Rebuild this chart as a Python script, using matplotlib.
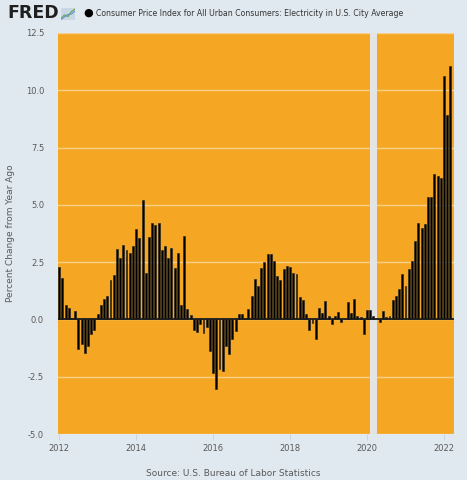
import numpy as np
import matplotlib.pyplot as plt

# 数据：2012年1月起每月同比变化（%）
start_year = 2012
values = [
    2.28, 1.81, 0.61, 0.48, 0.05, 0.35, -1.28, -1.06, -1.45, -1.16, -0.65, -0.46,  # 2012
    0.22, 0.65, 0.87, 1.01, 1.70, 1.94, 3.07, 2.68, 3.26, 3.01, 2.88, 3.20,  # 2013
    3.94, 3.54, 5.22, 2.03, 3.59, 4.20, 4.12, 4.20, 3.04, 3.22, 2.68, 3.12,  # 2014
    2.23, 2.90, 0.65, 3.62, 0.46, 0.20, -0.46, -0.55, -0.19, -0.58, -0.33, -1.39,  # 2015
    -2.32, -3.04, -2.17, -2.25, -1.16, -1.49, -0.84, -0.51, 0.25, 0.22, 0.07, 0.46,  # 2016
    1.04, 1.78, 1.45, 2.25, 2.51, 2.84, 2.84, 2.54, 1.91, 1.74, 2.20, 2.32,  # 2017
    2.29, 2.03, 2.00, 1.00, 0.86, 0.22, -0.48, -0.14, -0.87, 0.48, 0.29, 0.80,  # 2018
    0.17, -0.19, 0.16, 0.33, -0.10, 0.04, 0.77, 0.26, 0.91, 0.14, 0.09, -0.65,  # 2019
    0.39, 0.42, 0.13, 0.02, -0.12, 0.36, 0.10, 0.17, 0.84, 1.02, 1.31, 1.99,  # 2020
    1.48, 2.21, 2.53, 3.44, 4.22, 4.01, 4.17, 5.36, 5.33, 6.35, 6.24, 6.18,  # 2021
    10.64, 8.94, 11.08,  # 2022
]
x_ticks = [2012, 2014, 2016, 2018, 2020, 2022]
y_ticks = [-5.0, -2.5, 0.0, 2.5, 5.0, 7.5, 10.0, 12.5]
recession = (2020 + 1 / 12, 2020 + 3 / 12)

title = "Consumer Price Index for All Urban Consumers: Electricity in U.S. City Average"
y_name = "Percent Change from Year Ago"
source = "Source: U.S. Bureau of Labor Statistics"

bg = "#e1e9f0"
orange = "#f5a623"
text_color = "#595959"

x_data = start_year + np.arange(len(values)) / 12

# 画布
fig = plt.figure(figsize=(4.67, 4.8), dpi=100, facecolor=bg)
ax = fig.add_axes([0.1242, 0.0958, 0.848, 0.8355])
ax.set_facecolor(orange)

# 衰退期阴影
ax.axvspan(recession[0], recession[1], color="#e4e4e4", zorder=1, lw=0)

# 横向参考线
for t in y_ticks:
    ax.axhline(t, color="white", alpha=0.45, lw=1, zorder=0.5)

# 柱状图
ax.bar(x_data, values, width=0.05, color="black", edgecolor="#222222",
       linewidth=0.4, zorder=3)
ax.axhline(0, color="#1a1a1a", lw=1.3, zorder=4)

ax.set_xlim(2011.97, 2022.26)
ax.set_ylim(-5, 12.5)
ax.set_xticks(x_ticks)
ax.set_xticklabels([str(x) for x in x_ticks])
ax.set_yticks(y_ticks)
ax.set_yticklabels(["%.1f" % t for t in y_ticks])
ax.tick_params(axis="y", length=0, pad=10, labelsize=6, labelcolor=text_color)
ax.tick_params(axis="x", length=4, width=0.6, color="#c8d0d8", pad=3,
               labelsize=6, labelcolor=text_color)
for s in ax.spines.values():
    s.set_visible(False)

ax.set_ylabel(y_name, fontsize=6.5, color=text_color)
ax.yaxis.set_label_coords((15 - 58) / 396, 0.5)

# 标题与logo
fig.text(7 / 467, 1 - 13 / 480, "FRED", fontsize=12.5, fontweight="bold",
         color="#1f1f1f", va="center", ha="left")
icon = fig.add_axes([61 / 467, 1 - 20 / 480, 14 / 467, 12 / 480])
icon.set_facecolor("#c9d6e3")
icon.plot([0, 1, 2, 3, 4], [0.5, 1.5, 1.0, 2.5, 3.2], color="#6aa84f", lw=0.8)
icon.plot([0, 1, 2, 3, 4], [0.2, 0.9, 1.6, 1.8, 2.6], color="#5b8fc7", lw=0.8)
icon.set_xlim(0, 4)
icon.set_ylim(0, 3.5)
icon.set_xticks([])
icon.set_yticks([])
for s in icon.spines.values():
    s.set_visible(False)

fig.text(88 / 467, 1 - 13 / 480, "\u25CF", fontsize=8, color="black",
         va="center", ha="center")
fig.text(96 / 467, 1 - 13 / 480, title, fontsize=5.6, color="#333333",
         va="center", ha="left")

fig.text(233 / 467, 1 - 473 / 480, source, fontsize=6.5, color=text_color,
         va="center", ha="center")

plt.savefig("out.png", dpi=100, facecolor=bg)
